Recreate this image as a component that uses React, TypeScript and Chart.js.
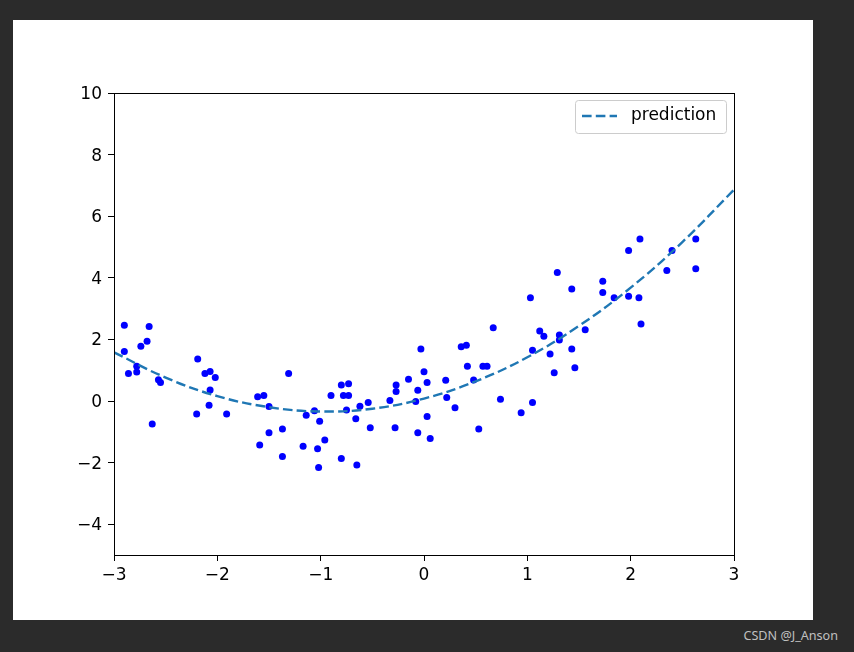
import React, { useEffect, useRef } from "react";
import { Chart, registerables } from "chart.js";

Chart.register(...registerables);

const pointX = [
  -2.9, -2.66, -2.68, -2.74, -2.9, -2.86, -2.78, -2.78, -2.57, -2.55, -2.63, -2.19, -2.12, -2.07, -2.02, -2.07, -2.08,
  -2.2, -1.91, -1.31, -1.61, -1.55, -1.5, -1.59, -1.5, -1.37, -1.37, -1.17, -1.14, -1.06, -1.01, -0.96, -1.03, -1.02,
  -0.9, -0.8, -0.73, -0.78, -0.73, -0.75, -0.62, -0.54, -0.66, -0.52, -0.8, -0.65, -0.33, -0.27, -0.27, -0.28, -0.15,
  -0.06, -0.08, -0.03, 0.0, 0.03, 0.03, -0.06, 0.06, 0.21, 0.22, 0.3, 0.36, 0.41, 0.42, 0.48, 0.57, 0.61, 0.53, 0.67,
  0.74, 0.94, 1.05, 1.05, 1.03, 1.29, 1.43, 1.73, 1.73, 1.84, 1.98, 2.09, 1.98, 2.08, 2.1, 2.35, 2.4, 2.63, 2.63, 1.12,
  1.16, 1.31, 1.31, 1.56, 1.22, 1.43, 1.26, 1.46,
];
const pointY = [
  2.46, 2.42, 1.94, 1.78, 1.61, 0.89, 1.13, 0.94, 0.69, 0.6, -0.75, 1.36, 0.89, 0.96, 0.76, 0.36, -0.14,
  -0.42, -0.42, 0.89, 0.14, 0.18, -0.18, -1.43, -1.03, -0.91, -1.8, -1.47, -0.46, -0.32, -0.66, -1.27, -1.55, -2.16,
  0.18, 0.52, 0.56, 0.18, 0.18, -0.29, -0.17, -0.05, -0.58, -0.87, -1.87, -2.08, 0.02, 0.52, 0.31, -0.87, 0.71,
  0.35, -0.02, 1.69, 0.95, 0.6, -0.5, -1.03, -1.22, 0.67, 0.11, -0.22, 1.76, 1.81, 1.13, 0.68, 1.13, 1.13, -0.91, 2.38,
  0.06, -0.38, -0.05, 1.65, 3.35, 4.17, 3.64, 3.89, 3.52, 3.35, 4.89, 5.26, 3.4, 3.35, 2.5, 4.24, 4.89, 5.26, 4.29, 2.27,
  2.1, 2.14, 1.98, 2.31, 1.53, 1.69, 0.92, 1.08,
];

const predX = [-3, -2.5, -2, -1.5, -1, -0.5, 0, 0.5, 1, 1.5, 2, 2.5, 3];
const predY = [1.58, 0.76, 0.16, -0.2, -0.34, -0.25, 0.08, 0.64, 1.42, 2.44, 3.68, 5.16, 6.86];

const xTicks = [-3, -2, -1, 0, 1, 2, 3];
const yTicks = [-4, -2, 0, 2, 4, 6, 8, 10];
const legendLabel = "prediction";

const FONT = "DejaVu Sans";

const fmt = (v: number) => (v < 0 ? "\u2212" + Math.abs(v) : String(v));

export default function App() {
  const ref = useRef<HTMLCanvasElement | null>(null);

  useEffect(() => {
    if (!ref.current) return;
    const framePlugin = {
      id: "frameLegend",
      afterDraw(chart: any) {
        const { ctx, chartArea } = chart;
        ctx.save();
        ctx.strokeStyle = "#000";
        ctx.lineWidth = 1;
        ctx.strokeRect(
          Math.round(chartArea.left) + 0.5,
          Math.round(chartArea.top) + 0.5,
          Math.round(chartArea.right - chartArea.left),
          Math.round(chartArea.bottom - chartArea.top)
        );
        // legend
        const bx = chartArea.right - 159;
        const by = chartArea.top + 7;
        const bw = 151;
        const bh = 33;
        ctx.beginPath();
        ctx.roundRect(bx + 0.5, by + 0.5, bw, bh, 3);
        ctx.fillStyle = "rgba(255,255,255,0.8)";
        ctx.fill();
        ctx.strokeStyle = "#cccccc";
        ctx.stroke();
        ctx.beginPath();
        ctx.setLineDash([9.6, 4.2]);
        ctx.strokeStyle = "#1f77b4";
        ctx.lineWidth = 2.4;
        ctx.moveTo(bx + 7, by + 16);
        ctx.lineTo(bx + 42, by + 16);
        ctx.stroke();
        ctx.setLineDash([]);
        ctx.fillStyle = "#000";
        ctx.font = `17px "${FONT}"`;
        ctx.textBaseline = "middle";
        ctx.fillText(legendLabel, bx + 56, by + 16);
        ctx.restore();
      },
    };

    const chart = new Chart(ref.current, {
      type: "scatter",
      data: {
        datasets: [
          {
            label: legendLabel,
            data: predX.map((x, i) => ({ x, y: predY[i] })),
            showLine: true,
            borderColor: "#1f77b4",
            borderWidth: 2.4,
            borderDash: [9.6, 4.2],
            pointRadius: 0,
            tension: 0.4,
            order: 0,
          },
          {
            label: "data",
            data: pointX.map((x, i) => ({ x, y: pointY[i] })),
            backgroundColor: "#0000ff",
            borderColor: "#0000ff",
            pointRadius: 3.5,
            borderWidth: 0,
            order: 1,
          },
        ],
      },
      options: {
        responsive: false,
        animation: false,
        layout: { padding: { left: 0, top: 73, right: 79, bottom: 0 } },
        plugins: { legend: { display: false }, tooltip: { enabled: false } },
        scales: {
          x: {
            type: "linear",
            min: -3,
            max: 3,
            afterBuildTicks: (s: any) => {
              s.ticks = xTicks.map((v) => ({ value: v }));
            },
            afterFit: (s: any) => {
              s.height = 65;
            },
            grid: { drawOnChartArea: false, drawTicks: true, tickLength: 6, color: "#000", tickColor: "#000" },
            border: { display: true, color: "#000" },
            ticks: { color: "#000", font: { family: FONT, size: 17 }, padding: 4, callback: (v: any) => fmt(Number(v)), maxRotation: 0 },
          },
          y: {
            type: "linear",
            min: -5,
            max: 10,
            afterBuildTicks: (s: any) => {
              s.ticks = yTicks.map((v) => ({ value: v }));
            },
            afterFit: (s: any) => {
              s.width = 101;
            },
            grid: { drawOnChartArea: false, drawTicks: true, tickLength: 6, color: "#000", tickColor: "#000" },
            border: { display: true, color: "#000" },
            ticks: { color: "#000", font: { family: FONT, size: 17 }, padding: 6, labelOffset: 1.5, callback: (v: any) => fmt(Number(v)) },
          },
        },
      },
      plugins: [framePlugin],
    } as any);
    return () => chart.destroy();
  }, []);

  return (
    <div style={{ position: "fixed", left: 0, top: 0, width: 854, height: 652, background: "#2b2b2b" }}>
      <div style={{ position: "absolute", left: 13, top: 20, width: 800, height: 600, background: "#fff" }}>
        <canvas ref={ref} width={800} height={600} style={{ display: "block", width: 800, height: 600 }} />
      </div>
      <div
        style={{
          position: "absolute",
          right: 16,
          top: 627,
          color: "#c0c0c0",
          fontFamily: '"Noto Sans", sans-serif',
          fontSize: 12.6,
          whiteSpace: "nowrap",
        }}
      >
        CSDN @J_Anson
      </div>
    </div>
  );
}
